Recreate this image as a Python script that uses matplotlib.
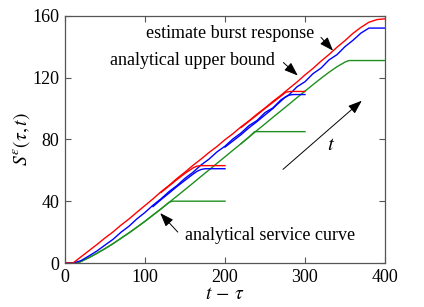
import matplotlib
matplotlib.use("Agg")
import matplotlib.pyplot as plt
import numpy as np

plt.rcParams['font.family'] = ['Liberation Serif', 'DejaVu Serif']
plt.rcParams['mathtext.fontset'] = 'stix'

# ---- data (t - tau on x, S on y) ----
x_main = [0, 10, 20, 30, 40, 50, 60, 70, 80, 90, 100, 110, 120, 130, 140, 150, 160, 170, 180, 190,
          200, 210, 220, 230, 240, 250, 260, 270, 280, 290, 300, 310, 320, 330, 340, 350, 360, 370, 380, 390, 400]

red_400 = [0, 0, 4, 8, 12, 16.2, 20.1, 24.5, 28.5, 32.9, 37.2, 41.5, 46.1, 50.2, 54.7, 58.8, 63.2, 67.2, 71.5, 75.4,
           79.8, 83.7, 88.1, 92.0, 96.3, 100.3, 104.6, 108.6, 112.9, 117.1, 121.7, 125.9, 130.6, 134.9, 139.6, 143.9, 148.6, 152.5, 155.8, 157.5, 158]

blue_400 = [0, 0, 1.5, 4.6, 7.8, 11.6, 15.3, 19.9, 23.8, 28.6, 32.7, 37.4, 41.5, 46.2, 50.1, 54.8, 58.7, 63.4, 67.2, 71.9,
            75.6, 80.3, 84.1, 88.9, 92.2, 97.3, 100.4, 105.6, 108.8, 114.0, 117.3, 122.5, 126.1, 131.4, 134.8, 140.0, 144.1, 148.8, 152, 152, 152]

green_x = [0, 15, 20, 30, 40, 50, 60, 70, 80, 90, 100, 110, 120, 130, 140, 150, 160, 170, 180, 190,
           200, 210, 220, 230, 240, 250, 260, 270, 280, 290, 300, 310, 320, 330, 340, 350, 355, 400]
green_400 = [0, 0, 1, 3.5, 6.3, 9.3, 12.5, 16, 19.5, 23.2, 27, 31, 35, 39.2, 43.3, 47.5, 51.7, 56, 60.2, 64.5,
             68.7, 73, 77.2, 81.5, 85.8, 90, 94.3, 98.5, 102.7, 107, 111.2, 115.4, 119.5, 123.4, 127, 130, 131, 131]

red_200_x = [120, 130, 140, 150, 160, 165, 170, 200]
red_200 = [45.6, 49.8, 54.0, 58.0, 61.5, 62.7, 63, 63]
red_300_x = [220, 230, 240, 250, 260, 270, 276, 282, 300]
red_300 = [87.6, 91.7, 95.8, 100.0, 104.0, 108.0, 110.5, 111, 111]

blue_200_x = [110, 120, 130, 140, 150, 160, 165, 170, 175, 200]
blue_200 = [36.5, 41.0, 45.2, 49.5, 53.5, 57.5, 59.3, 60.5, 61, 61]
blue_300_x = [200, 210, 220, 230, 240, 250, 260, 265, 270, 275, 280, 285, 300]
blue_300 = [75.0, 79.0, 83.0, 87.5, 91.5, 95.8, 100.0, 102.5, 104.8, 107.2, 108.6, 109, 109]

green_200_x = [0, 15, 20, 30, 40, 50, 60, 70, 80, 90, 100, 110, 120, 130, 134, 200]
green_200 = [0, 0, 1, 3.5, 6.3, 9.3, 12.5, 16, 19.5, 23.2, 27, 31, 35, 39.2, 40, 40]
green_300_x = [220, 230, 237, 300]
green_300 = [77.2, 81.5, 85, 85]

x_ticks = [0, 100, 200, 300, 400]
y_ticks = [0, 40, 80, 120, 160]

RED = '#ff0000'
BLUE = '#0000ff'
GREEN = '#1f8f1f'

fig = plt.figure(figsize=(4.24, 3.07), dpi=100)
ax = fig.add_axes([0.1533, 0.1433, 0.7547, 0.8055])

lw = 1.0
ax.plot(green_200_x, green_200, color=GREEN, lw=lw)
ax.plot(green_300_x, green_300, color=GREEN, lw=lw)
ax.plot(green_x, green_400, color=GREEN, lw=lw)
ax.plot(blue_200_x, blue_200, color=BLUE, lw=lw)
ax.plot(blue_300_x, blue_300, color=BLUE, lw=lw)
ax.plot(x_main, blue_400, color=BLUE, lw=lw)
ax.plot(red_200_x, red_200, color=RED, lw=lw)
ax.plot(red_300_x, red_300, color=RED, lw=lw)
ax.plot(x_main, red_400, color=RED, lw=lw)

ax.set_xlim(0, 400)
ax.set_ylim(0, 160)
ax.set_xticks(x_ticks)
ax.set_yticks(y_ticks)
ax.tick_params(direction='in', top=True, right=True, labelsize=13, length=4, color='#555555', pad=4)
for s in ax.spines.values():
    s.set_color('#555555')
    s.set_linewidth(0.9)

ax.set_xlabel(r'$t\,-\,\tau$', fontsize=14, labelpad=0)
ax.set_ylabel(r'$S^{\varepsilon}(\tau,t)$', fontsize=14, labelpad=0)

aprops = dict(arrowstyle='-|>,head_length=0.6,head_width=0.22', color='k', lw=0.7,
              mutation_scale=14, shrinkA=0, shrinkB=0)
ax.text(101, 148.4, 'estimate burst response', fontsize=13, ha='left', va='center')
ax.annotate('', xy=(335, 137.4), xytext=(320, 146), arrowprops=aprops)
ax.text(56, 131, 'analytical upper bound', fontsize=13, ha='left', va='center')
ax.annotate('', xy=(291, 121.3), xytext=(273, 129.7), arrowprops=aprops)
ax.text(150, 18, 'analytical service curve', fontsize=13, ha='left', va='center')
ax.annotate('', xy=(119, 32.3), xytext=(141, 20), arrowprops=aprops)
ax.annotate('', xy=(371, 105), xytext=(272.5, 60.6), arrowprops=aprops)
ax.text(333, 76, r'$t$', fontsize=15, ha='center', va='center')

fig.savefig('out.png', dpi=100)
